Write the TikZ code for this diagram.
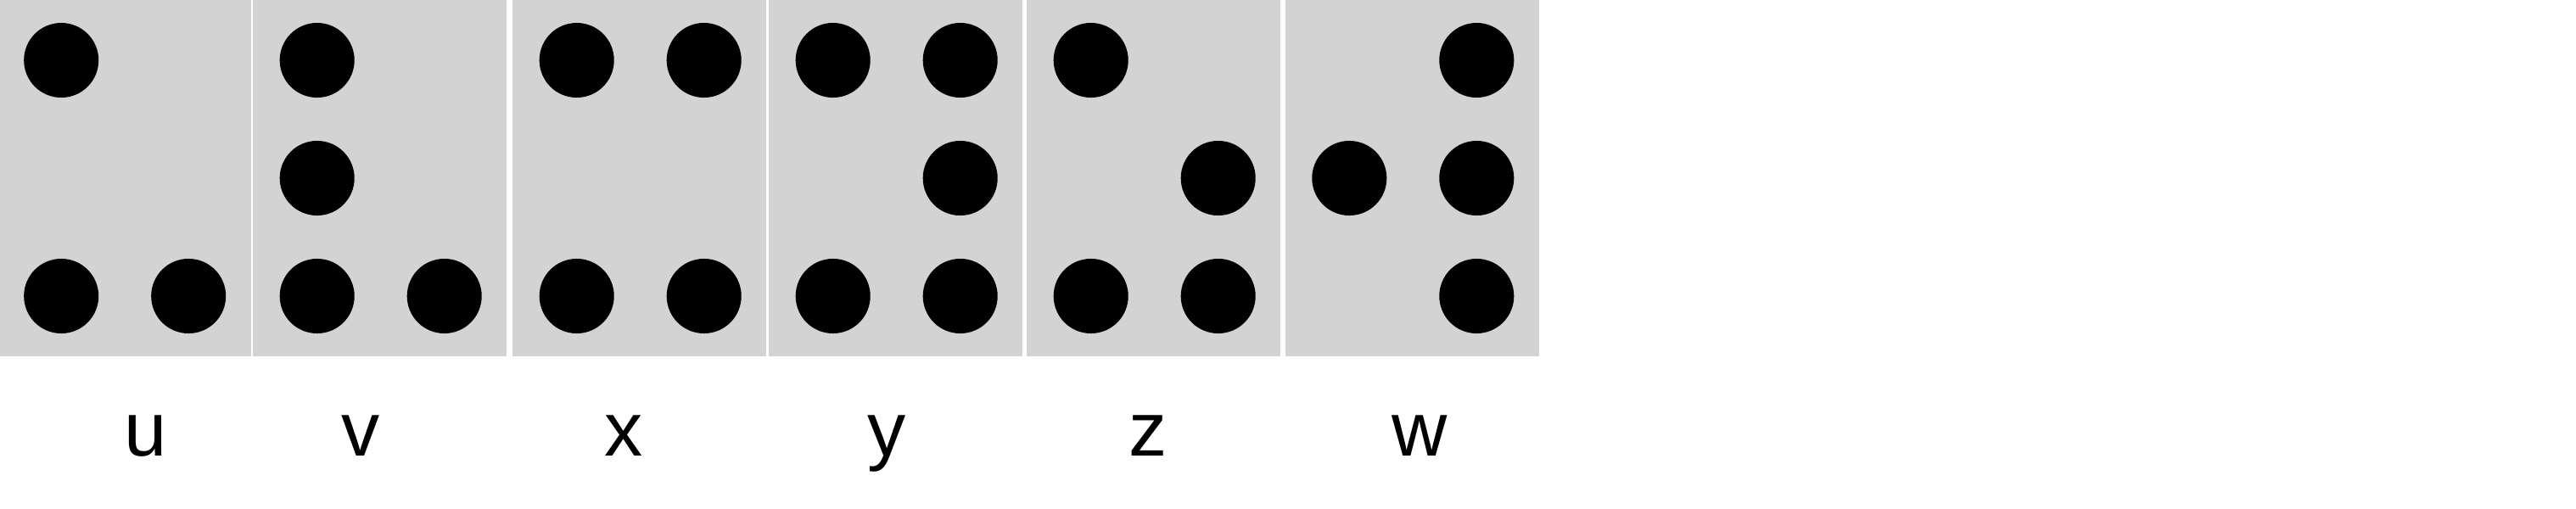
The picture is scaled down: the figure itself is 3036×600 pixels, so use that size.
\documentclass[tikz,border=0pt]{standalone}
\usepackage{fontspec}
\setmainfont{Liberation Sans}
\definecolor{cellgray}{RGB}{211,211,211}

\begin{document}
\begin{tikzpicture}[x=0.01cm,y=-0.01cm,
  cell/.style={fill=cellgray},
  dot/.style={fill=black},
  letter/.style={anchor=base, inner sep=0pt, font=\fontsize{25.7pt}{30pt}\selectfont}]

%---------------------------------------
% Geometry of one braille cell
%---------------------------------------
\def\cw{299}     % cell width
\def\ch{420}     % cell height
\def\dx{75.7}    % first column from cell edge
\def\colsep{150} % column distance
\def\rowtop{71}  % first row
\def\rowsep{139} % row distance
\def\dotr{0.44cm}
\def\laby{537}   % label baseline

\useasboundingbox (0,0) rectangle (3036,600);

%====================================================
% Cells: left edge / dots (column/row) / label x / letter
%====================================================
\foreach \cx/\pat/\lx/\lab in {
    -3.5/{1/1,1/3,2/3}/172/u,
    298/{1/1,1/2,1/3,2/3}/425/v,
    604/{1/1,2/1,1/3,2/3}/735/x,
    906/{1/1,2/1,2/2,1/3,2/3}/1045/y,
    1210/{1/1,2/2,1/3,2/3}/1353/z,
    1514.6/{2/1,1/2,2/2,2/3}/1673/w}{
  % grey cell
  \fill[cell] (\cx,0) rectangle ++(\cw,\ch);
  % raised dots
  \foreach \c/\r in \pat
    \fill[dot] ({\cx+\dx+(\c-1)*\colsep},{\rowtop+(\r-1)*\rowsep}) circle[radius=\dotr];
  % letter below
  \node[letter] (lab-\lab) at (\lx,\laby) {\lab};
}

\end{tikzpicture}
\end{document}
